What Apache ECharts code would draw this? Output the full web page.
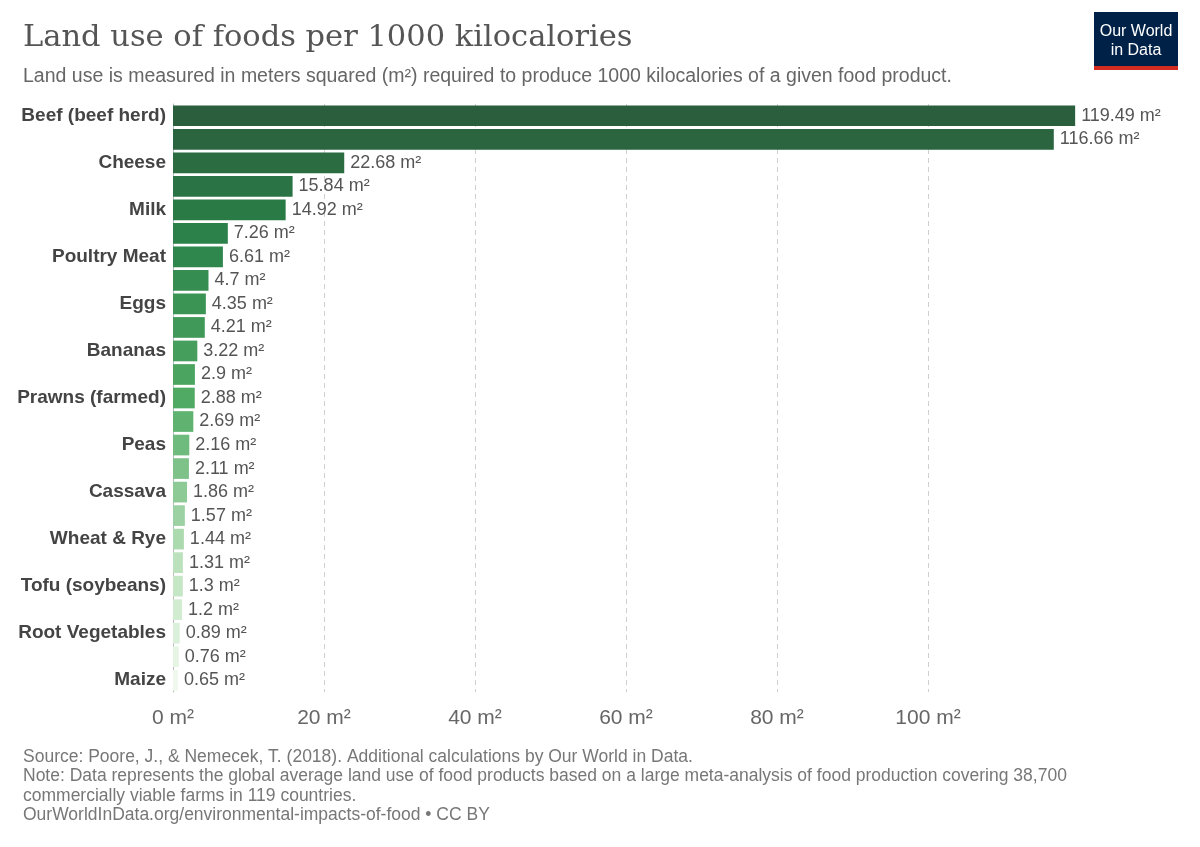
<!DOCTYPE html>
<html>
<head>
<meta charset="utf-8">
<script src="https://cdn.jsdelivr.net/npm/echarts@6/dist/echarts.min.js"></script>
<style>
  body { margin: 0; background: #fff; }
  #main { width: 1200px; height: 847px; }
</style>
</head>
<body>
<div id="main"></div>
<script>
var foods = ['Beef (beef herd)', 'Lamb & Mutton', 'Cheese', 'Beef (dairy herd)', 'Milk', 'Pig Meat',
  'Poultry Meat', 'Fish (farmed)', 'Eggs', 'Tomatoes', 'Bananas', 'Oatmeal', 'Prawns (farmed)',
  'Citrus Fruit', 'Peas', 'Nuts', 'Cassava', 'Groundnuts', 'Wheat & Rye', 'Apples',
  'Tofu (soybeans)', 'Potatoes', 'Root Vegetables', 'Rice', 'Maize'];
var landUse = [119.49, 116.66, 22.68, 15.84, 14.92, 7.26, 6.61, 4.7, 4.35, 4.21, 3.22, 2.9, 2.88,
  2.69, 2.16, 2.11, 1.86, 1.57, 1.44, 1.31, 1.3, 1.2, 0.89, 0.76, 0.65];
var xTicks = [0, 20, 40, 60, 80, 100];

// colour ramp, dark green at the top to almost white at the bottom
var stops = [[0, [43, 94, 60]], [0.2, [42, 128, 72]], [0.5, [80, 170, 100]], [0.8, [190, 228, 190]], [1, [240, 248, 238]]];
function rampColor(t) {
  for (var i = 1; i < stops.length; i++) {
    if (t <= stops[i][0]) {
      var a = stops[i - 1], b = stops[i], f = (t - a[0]) / (b[0] - a[0]);
      var c = a[1].map(function (v, k) { return Math.round(v + (b[1][k] - v) * f); });
      return 'rgb(' + c.join(',') + ')';
    }
  }
  return 'rgb(240,248,238)';
}

var myChart = echarts.init(document.getElementById('main'));
var font = 'Helvetica, Arial, "Liberation Sans", sans-serif';

var option = {
  animation: false,
  textStyle: { fontFamily: font },
  title: [
    { text: 'Land use of foods per 1000 kilocalories', left: 18, top: 18,
      textStyle: { fontFamily: 'Georgia, "DejaVu Serif", serif', fontWeight: 'normal', fontSize: 30.5, color: '#555' } },
    { text: 'Land use is measured in meters squared (m²) required to produce 1000 kilocalories of a given food product.',
      left: 18, top: 62, textStyle: { fontWeight: 'normal', fontSize: 19.5, color: '#666' } },
    { text: 'Source: Poore, J., & Nemecek, T. (2018). Additional calculations by Our World in Data.\nNote: Data represents the global average land use of food products based on a large meta-analysis of food production covering 38,700\ncommercially viable farms in 119 countries.\nOurWorldInData.org/environmental-impacts-of-food • CC BY',
      left: 18, top: 742, textStyle: { fontWeight: 'normal', fontSize: 17.5, color: '#777', lineHeight: 19.5 } }
  ],
  graphic: [
    { type: 'rect', shape: { x: 1094, y: 12, width: 84, height: 58 }, style: { fill: '#002147' } },
    { type: 'rect', shape: { x: 1094, y: 66, width: 84, height: 4 }, style: { fill: '#d42b21' } },
    { type: 'text', x: 1136, y: 22, style: { text: 'Our World\nin Data', fill: '#fff', font: '16px ' + font,
      align: 'center', lineHeight: 19 } }
  ],
  grid: { left: 173, right: 121, top: 104, bottom: 155, containLabel: false },
  xAxis: {
    type: 'value', min: 0, max: 120, interval: 20,
    axisLine: { show: false }, axisTick: { show: false },
    splitLine: { show: true, showMinLine: false, showMaxLine: false,
      lineStyle: { type: [5, 4], color: '#d0d0d0' } },
    axisLabel: { fontSize: 21, color: '#666', margin: 16,
      formatter: function (v) { return xTicks.indexOf(v) >= 0 ? v + ' m²' : ''; } }
  },
  yAxis: {
    type: 'category', data: foods, inverse: true,
    axisLine: { show: true, lineStyle: { color: '#bbb' } }, axisTick: { show: false },
    axisLabel: { fontSize: 19, fontWeight: 'bold', color: '#444', margin: 7 }
  },
  series: [{
    type: 'bar', barCategoryGap: '12%',
    data: landUse.map(function (v, i) {
      return { value: v, itemStyle: { color: rampColor(i / (landUse.length - 1)) } };
    }),
    label: { show: true, position: 'right', distance: 6, fontSize: 18, color: '#555',
      formatter: function (p) { return p.value + ' m²'; } }
  }]
};

myChart.setOption(option);
</script>
</body>
</html>
